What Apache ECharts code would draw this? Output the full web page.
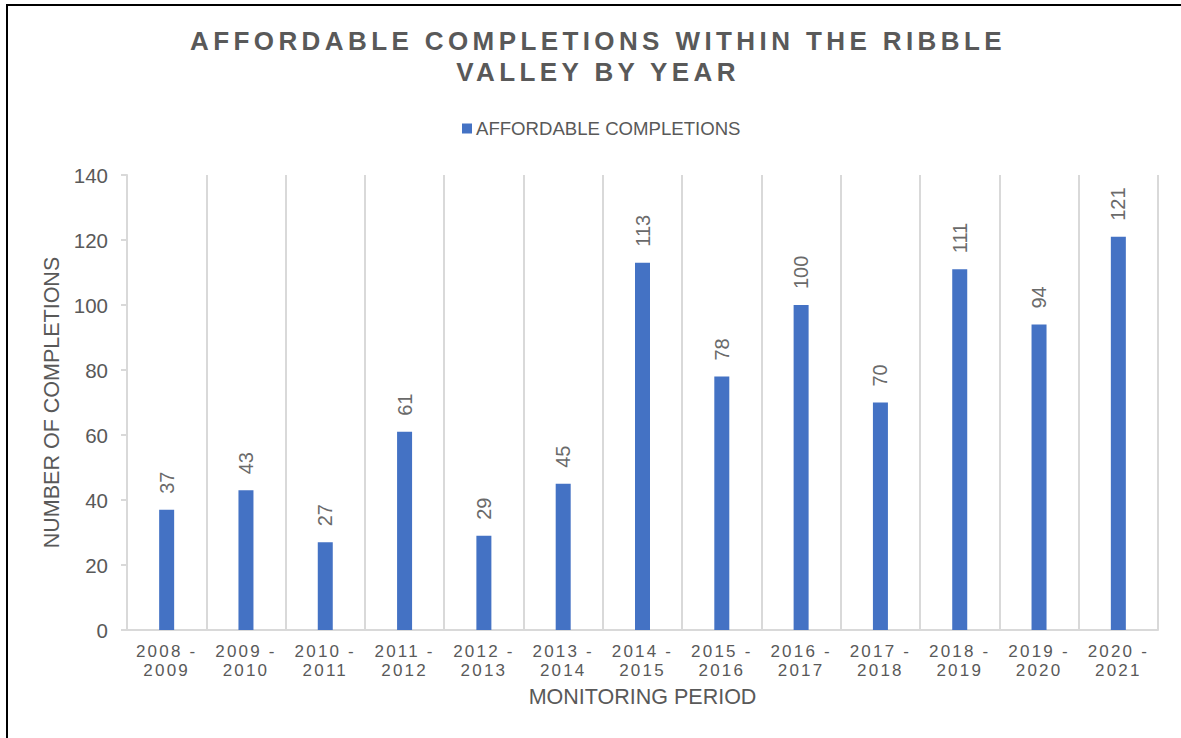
<!DOCTYPE html>
<html>
<head>
<meta charset="utf-8">
<script src="https://cdn.jsdelivr.net/npm/echarts@6/dist/echarts.min.js"></script>
<style>
  html, body { margin: 0; padding: 0; background: #fff; }
  #frame { position: absolute; left: 6px; top: 4px; width: 1181px; height: 740px; border: 2px solid #000; box-sizing: border-box; }
  #chart { position: absolute; left: 0; top: 0; width: 1181px; height: 738px; }
  text[style*="ttlfont"] { letter-spacing: 4.4px; }
  text[style*="xcatfont"] { letter-spacing: 2.2px; }
</style>
</head>
<body>
<div id="frame"></div>
<div id="chart"></div>
<script>
const titleText = 'AFFORDABLE COMPLETIONS WITHIN THE RIBBLE\nVALLEY BY YEAR';
const seriesName = 'AFFORDABLE COMPLETIONS';
const xAxisName = 'MONITORING PERIOD';
const yAxisName = 'NUMBER OF COMPLETIONS';
const categories = ['2008 - 2009', '2009 - 2010', '2010 - 2011', '2011 - 2012', '2012 - 2013', '2013 - 2014', '2014 - 2015', '2015 - 2016', '2016 - 2017', '2017 - 2018', '2018 - 2019', '2019 - 2020', '2020 - 2021'];
const completions = [37, 43, 27, 61, 29, 45, 113, 78, 100, 70, 111, 94, 121];
const yTicks = { min: 0, max: 140, interval: 20 };

const grey = '#595959';
const lineGrey = '#d9d9d9';
const chart = echarts.init(document.getElementById('chart'), null, { renderer: 'svg' });
chart.setOption({
  animation: false,
  backgroundColor: 'transparent',
  title: {
    text: titleText,
    left: 593,
    textAlign: 'center',
    top: 20,
    textStyle: { fontFamily: "'Liberation Sans', ttlfont", fontWeight: 'bold', fontSize: 26, color: grey, lineHeight: 31 }
  },
  legend: {
    data: [seriesName],
    top: 119,
    left: 462,
    padding: 0,
    icon: 'rect',
    itemWidth: 10,
    itemHeight: 10,
    itemGap: 4,
    textStyle: { fontFamily: 'Liberation Sans', fontSize: 18.6, color: grey, padding: [0, 0, 0, -1] }
  },
  grid: { left: 127, top: 175, right: 23, bottom: 108, containLabel: false },
  xAxis: {
    type: 'category',
    data: categories,
    name: xAxisName,
    nameLocation: 'middle',
    nameGap: 56,
    nameTextStyle: { fontFamily: 'Liberation Sans', fontSize: 21.5, color: grey },
    axisLine: { show: true, lineStyle: { color: lineGrey, width: 2 } },
    axisTick: { show: false },
    splitLine: { show: true, interval: 0, lineStyle: { color: lineGrey, width: 2 } },
    axisLabel: {
      interval: 0,
      margin: 12,
      fontFamily: "'Liberation Sans', xcatfont",
      fontSize: 17,
      lineHeight: 19,
      color: grey,
      formatter: v => v.replace(' - ', ' -\n')
    }
  },
  yAxis: {
    type: 'value',
    min: yTicks.min,
    max: yTicks.max,
    interval: yTicks.interval,
    name: yAxisName,
    nameLocation: 'middle',
    nameGap: 64,
    nameTextStyle: { fontFamily: 'Liberation Sans', fontSize: 21.5, color: grey },
    axisLine: { show: true, lineStyle: { color: lineGrey, width: 2 } },
    axisTick: { show: true, length: 6, lineStyle: { color: lineGrey, width: 2 } },
    splitLine: { show: false },
    axisLabel: { margin: 19, fontFamily: 'Liberation Sans', fontSize: 20.5, color: grey }
  },
  series: [{
    name: seriesName,
    type: 'bar',
    data: completions,
    barWidth: 15,
    itemStyle: { color: '#4472c4' },
    label: {
      show: true,
      position: 'top',
      distance: 16,
      rotate: 90,
      align: 'left',
      verticalAlign: 'middle',
      fontFamily: 'Liberation Sans',
      fontSize: 20,
      color: '#6a6a6a'
    }
  }]
});
</script>
</body>
</html>
